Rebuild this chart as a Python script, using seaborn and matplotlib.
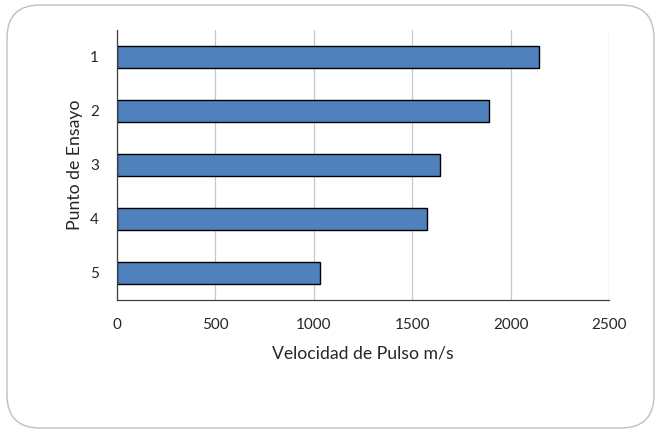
import matplotlib
matplotlib.use("Agg")
import matplotlib.pyplot as plt
import seaborn as sns
import pandas as pd
from matplotlib.patches import FancyBboxPatch

categories = ["1", "2", "3", "4", "5"]
values = [2144, 1891, 1642, 1577, 1034]
xticks = [0, 500, 1000, 1500, 2000, 2500]

sns.set_theme(style="white")
plt.rcParams['font.family'] = ['Lato', 'DejaVu Sans']

df = pd.DataFrame({"Punto": categories, "Velocidad": values})

fig = plt.figure(figsize=(6.61, 4.32), dpi=100)
ax = fig.add_axes([117/661, 1-300/432, (609-117)/661, (300-30)/432])

sns.barplot(data=df, y="Punto", x="Velocidad", order=categories, orient="h",
            color="#4F81BD", saturation=1, width=0.39, edgecolor="black",
            linewidth=1.0, ax=ax)

ax.set_xlim(0, 2500)
ax.set_ylim(4.5, -0.5)
ax.set_xticks(xticks)
ax.set_xticklabels([str(v) for v in xticks], fontsize=11, color="#262626")
ax.tick_params(axis="y", labelsize=11, colors="#262626", length=0, pad=13)
ax.tick_params(axis="x", length=0, pad=13)
ax.xaxis.grid(True, color="#c8c8c8", linewidth=0.9)
ax.set_axisbelow(True)
for s in ["top", "right"]:
    ax.spines[s].set_visible(False)
ax.spines["left"].set_color("#404040")
ax.spines["bottom"].set_color("#404040")
ax.spines["left"].set_linewidth(0.9)
ax.spines["bottom"].set_linewidth(0.9)
ax.set_xlabel("Velocidad de Pulso m/s", fontsize=12.7, color="#262626", labelpad=10)
ax.set_ylabel("Punto de Ensayo", fontsize=12.7, color="#262626", labelpad=5)

border = FancyBboxPatch((7/661, 4/432), 647/661, 423/432,
                        boxstyle="round,pad=0,rounding_size=0.05",
                        transform=fig.transFigure, facecolor="none",
                        edgecolor="#bfbfbf", linewidth=1.0,
                        mutation_aspect=661/432)
fig.patches.append(border)

fig.savefig("out.png", dpi=100)
